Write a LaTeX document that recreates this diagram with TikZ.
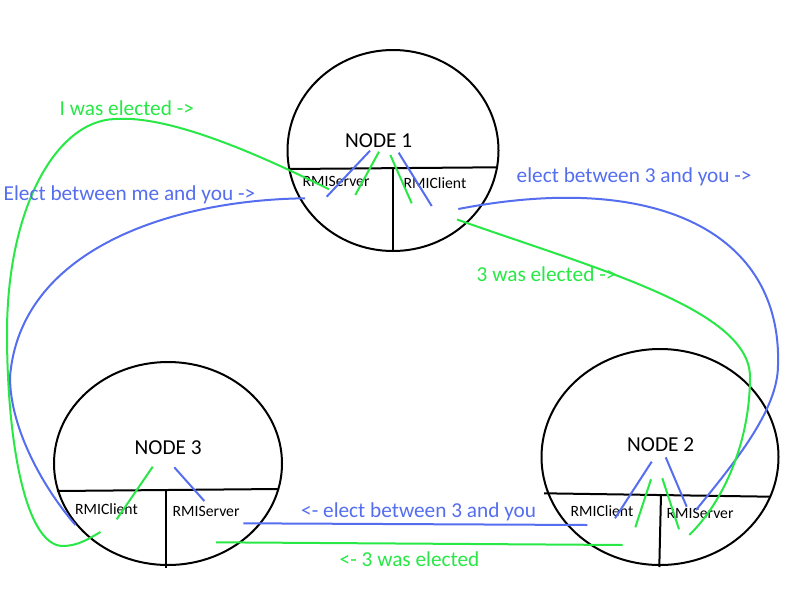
\documentclass[tikz,border=0pt]{standalone}
\usepackage{fontspec}
\setmainfont{Carlito}
\usetikzlibrary{shapes.geometric}
\definecolor{eblue}{RGB}{85,110,240}
\definecolor{egreen}{RGB}{40,232,70}
\tikzset{
  circ/.style={draw=black, line width=2pt, ellipse, inner sep=0pt},
  divider/.style={draw=black, line width=2pt},
  bl/.style={draw=eblue, line width=2pt},
  gr/.style={draw=egreen, line width=2pt},
  lbl/.style={inner sep=0pt, anchor=base west, font=\fontsize{21.3}{25}\selectfont},
  nodetxt/.style={inner sep=0pt, anchor=base west, font=\fontsize{21.3}{25}\selectfont},
  rmi/.style={inner sep=0pt, anchor=base west, font=\fontsize{15.7}{18}\selectfont},
}
\begin{document}
\begin{tikzpicture}[x=1pt,y=-1pt]
\useasboundingbox[fill=white] (0,0) rectangle (800,600);

% ---------- circles ----------
\node[circ, minimum width=211pt, minimum height=201pt] (c1) at (393,150.5) {};
\node[circ, minimum width=228pt, minimum height=203pt] (c3) at (168,463.5) {};
\node[circ, minimum width=237pt, minimum height=216pt] (c2) at (660,457) {};

% ---------- dividers ----------
\coordinate (d1l) at (289.5,169); \coordinate (d1r) at (496.5,167.3);
\coordinate (d1t) at (393.3,168.5); \coordinate (d1b) at (393.3,251);
\draw[divider] (d1l) -- (d1r);
\draw[divider] (d1t) -- (d1b);

\coordinate (d3l) at (57,491); \coordinate (d3r) at (278,489);
\coordinate (d3t) at (165.7,490); \coordinate (d3b) at (165.7,567.5);
\draw[divider] (d3l) -- (d3r);
\draw[divider] (d3t) -- (d3b);

\coordinate (d2l) at (544,493.3); \coordinate (d2r) at (771,496.7);
\coordinate (d2t) at (661,494); \coordinate (d2b) at (659.3,567);
\draw[divider] (d2l) -- (d2r);
\draw[divider] (d2t) -- (d2b);

% ---------- texts in circles ----------
\node[nodetxt] (t1) at (345,147.3) {NODE 1};
\node[nodetxt] (t2) at (627,451) {NODE 2};
\node[nodetxt] (t3) at (134.5,454) {NODE 3};
\node[rmi] (s1) at (302.5,186) {RMIServer};
\node[rmi] (k1) at (403.5,188.7) {RMIClient};
\node[rmi] (k3) at (75,514) {RMIClient};
\node[rmi] (s3) at (172.5,516) {RMIServer};
\node[rmi] (k2) at (570.5,516.7) {RMIClient};
\node[rmi] (s2) at (666.5,518.7) {RMIServer};

% ---------- short strokes inside circles ----------
\coordinate (a1) at (370,150.7);   \coordinate (a2) at (326.7,196.7);
\coordinate (a3) at (379,151.7);   \coordinate (a4) at (355.3,195);
\coordinate (a5) at (390.3,155);   \coordinate (a6) at (411.7,203.3);
\coordinate (a7) at (398.7,152.7); \coordinate (a8) at (431.7,206);
\draw[bl] (a1) -- (a2);
\draw[gr] (a3) -- (a4);
\draw[gr] (a5) -- (a6);
\draw[bl] (a7) -- (a8);

\coordinate (b1) at (152.7,466.7); \coordinate (b2) at (116.7,519.3);
\coordinate (b3) at (174.3,467.3); \coordinate (b4) at (204.3,501);
\draw[gr] (b1) -- (b2);
\draw[bl] (b3) -- (b4);

\coordinate (e1) at (651.7,461.7); \coordinate (e2) at (615,518.3);
\coordinate (e3) at (651,479.3);   \coordinate (e4) at (635.3,527.3);
\coordinate (e5) at (662.3,478.3); \coordinate (e6) at (679,529.3);
\coordinate (e7) at (665.7,457.3); \coordinate (e8) at (686.7,506.7);
\draw[bl] (e1) -- (e2);
\draw[gr] (e3) -- (e4);
\draw[gr] (e5) -- (e6);
\draw[bl] (e7) -- (e8);

% ---------- long connectors ----------
% I was elected (node 3 <-> node 1)
\coordinate (gA) at (329,189.3);
\coordinate (gB) at (100.5,532);
\draw[gr] (gA) .. controls (260,155) and (170,115) .. (115,119)
               .. controls (55,121) and (7,210) .. (7,333)
               .. controls (7,440) and (25,546) .. (63,546)
               .. controls (78,546) and (90,538) .. (gB);

% Elect between me and you (node 3 <-> node 1)
\coordinate (bA) at (305,198.3);
\coordinate (bB) at (75.5,525);
\draw[bl] (bA) .. controls (170,200) and (20,250) .. (10,377)
               .. controls (10,430) and (45,490) .. (bB);

% elect between 3 and you (node 1 -> node 2)
\coordinate (rA) at (458.3,209);
\coordinate (rB) at (696,510);
\draw[bl] (rA) .. controls (660,170) and (782,235) .. (778,365)
               .. controls (778,410) and (735,462) .. (rB);

% 3 was elected (node 1 -> node 2)
\coordinate (qA) at (457,219.5);
\coordinate (qB) at (689.3,535);
\draw[gr] (qA) .. controls (600,270) and (750,310) .. (750,377)
               .. controls (750,440) and (725,500) .. (qB);

% bottom connectors
\coordinate (hA) at (243.3,523.3); \coordinate (hB) at (587.3,525);
\draw[bl] (hA) -- (hB);
\coordinate (iA) at (216,542.3); \coordinate (iB) at (622.7,545);
\draw[gr] (iA) -- (iB);

% ---------- labels ----------
\node[lbl, text=egreen] (L1) at (59.5,115) {I was elected ->};
\node[lbl, text=eblue] (L2) at (3.5,200) {Elect between me and you ->};
\node[lbl, text=eblue] (L3) at (516.5,182.3) {elect between 3 and you ->};
\node[lbl, text=egreen] (L4) at (476.5,281) {3 was elected ->};
\node[lbl, text=eblue] (L5) at (301,517.7) {<- elect between 3 and you};
\node[lbl, text=egreen] (L6) at (339.5,566) {<- 3 was elected};
\end{tikzpicture}
\end{document}
